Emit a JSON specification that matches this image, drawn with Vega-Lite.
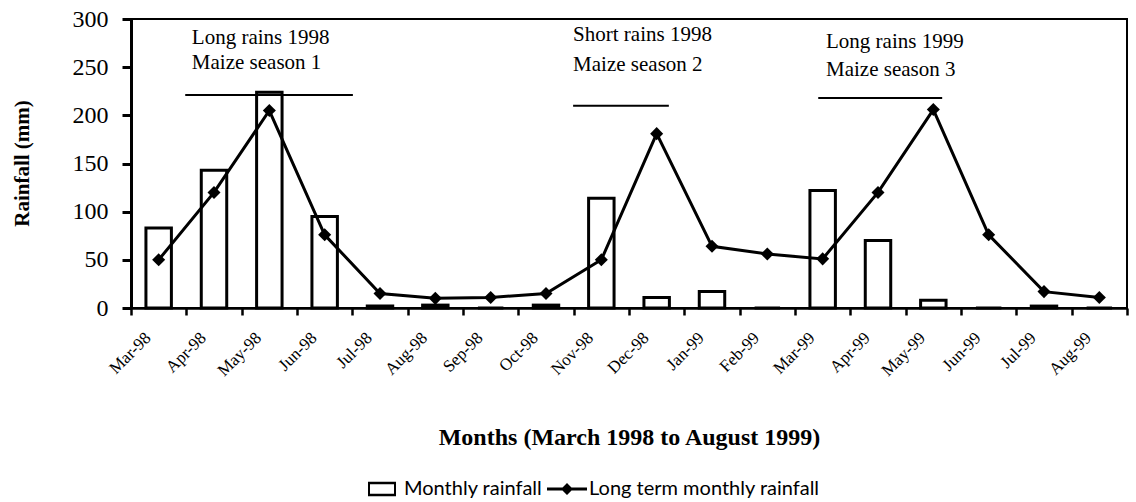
{
  "$schema": "https://vega.github.io/schema/vega-lite/v6.json",
  "width": 996,
  "height": 289,
  "autosize": {"type": "none"},
  "padding": {"left": 131, "top": 19, "right": 9, "bottom": 194},
  "background": "white",
  "config": {
    "view": {"stroke": "black", "strokeWidth": 2},
    "axis": {"domainColor": "black", "tickColor": "black", "labelColor": "black", "titleColor": "black", "grid": false},
    "legend": {"orient": "none", "legendX": 231, "legendY": 450}
  },
  "datasets": {
    "rain": [
      {"month": "Mar-98", "rain": 83, "lt": 50},
      {"month": "Apr-98", "rain": 143, "lt": 120},
      {"month": "May-98", "rain": 224, "lt": 205},
      {"month": "Jun-98", "rain": 95, "lt": 76},
      {"month": "Jul-98", "rain": 2, "lt": 15},
      {"month": "Aug-98", "rain": 3, "lt": 10},
      {"month": "Sep-98", "rain": 0, "lt": 11},
      {"month": "Oct-98", "rain": 3, "lt": 15},
      {"month": "Nov-98", "rain": 114, "lt": 50},
      {"month": "Dec-98", "rain": 11, "lt": 181},
      {"month": "Jan-99", "rain": 17, "lt": 64},
      {"month": "Feb-99", "rain": 0, "lt": 56},
      {"month": "Mar-99", "rain": 122, "lt": 51},
      {"month": "Apr-99", "rain": 70, "lt": 120},
      {"month": "May-99", "rain": 8, "lt": 206},
      {"month": "Jun-99", "rain": 0, "lt": 76},
      {"month": "Jul-99", "rain": 2, "lt": 17},
      {"month": "Aug-99", "rain": 0, "lt": 11}
    ],
    "seasons": [
      {"season": "Long rains 1998", "start": 0.98, "end": 4.01, "level": 221},
      {"season": "Short rains 1998", "start": 7.99, "end": 9.72, "level": 210},
      {"season": "Long rains 1999", "start": 12.42, "end": 14.66, "level": 218}
    ],
    "notes": [
      {"text": "Long rains 1998", "pos": 1.1, "level": 280},
      {"text": "Maize season 1", "pos": 1.1, "level": 254},
      {"text": "Short rains 1998", "pos": 7.99, "level": 283},
      {"text": "Maize season 2", "pos": 7.99, "level": 252},
      {"text": "Long rains 1999", "pos": 12.56, "level": 276},
      {"text": "Maize season 3", "pos": 12.56, "level": 247}
    ],
    "legend": [
      {"series": "Monthly rainfall"},
      {"series": "Long term monthly rainfall"}
    ]
  },
  "layer": [
    {
      "data": {"name": "rain"},
      "layer": [
        {
          "mark": {"type": "bar", "fill": "white", "stroke": "black", "strokeWidth": 3, "width": {"band": 0.46}},
          "encoding": {
            "x": {
              "field": "month", "type": "ordinal", "sort": null,
              "scale": {"paddingInner": 0, "paddingOuter": 0},
              "axis": {
                "title": "Months (March 1998 to August 1999)",
                "titleFont": "Liberation Serif", "titleFontSize": 24, "titleFontWeight": "bold",
                "titleY": 129, "titleBaseline": "middle",
                "labelAngle": -45, "labelAlign": "right", "labelBaseline": "middle",
                "labelFont": "Liberation Serif", "labelFontSize": 17, "labelPadding": 20, "labelOffset": -11,
                "tickBand": "extent", "tickSize": 7, "tickWidth": 2.5, "domainWidth": 2.5
              }
            },
            "y": {
              "field": "rain", "type": "quantitative",
              "scale": {"domain": [0, 300], "nice": false},
              "axis": {
                "title": "Rainfall (mm)", "values": [0, 50, 100, 150, 200, 250, 300],
                "titleFont": "Liberation Serif", "titleFontSize": 21, "titleFontWeight": "bold",
                "titleX": -109, "titleY": 144, "titleAngle": 270, "titleBaseline": "middle", "titleAlign": "center",
                "labelFont": "Liberation Serif", "labelFontSize": 24, "labelPadding": 14,
                "tickSize": 9, "tickWidth": 3, "domainWidth": 3
              }
            }
          }
        },
        {
          "mark": {"type": "line", "color": "black", "strokeWidth": 3},
          "encoding": {
            "x": {"field": "month", "type": "ordinal", "sort": null},
            "y": {"field": "lt", "type": "quantitative", "title": "Rainfall (mm)"}
          }
        },
        {
          "mark": {"type": "point", "shape": "diamond", "filled": true, "color": "black", "size": 170, "opacity": 1},
          "encoding": {
            "x": {"field": "month", "type": "ordinal", "sort": null},
            "y": {"field": "lt", "type": "quantitative", "title": "Rainfall (mm)"}
          }
        }
      ]
    },
    {
      "data": {"name": "seasons"},
      "mark": {"type": "rule", "color": "black", "strokeWidth": 2},
      "encoding": {
        "x": {"field": "start", "type": "quantitative", "scale": {"domain": [0, 18], "nice": false, "zero": false}, "axis": null},
        "x2": {"field": "end"},
        "y": {"field": "level", "type": "quantitative", "title": "Rainfall (mm)"}
      }
    },
    {
      "data": {"name": "notes"},
      "mark": {"type": "text", "align": "left", "baseline": "middle", "font": "Liberation Serif", "fontSize": 21, "color": "black"},
      "encoding": {
        "x": {"field": "pos", "type": "quantitative", "scale": {"domain": [0, 18], "nice": false, "zero": false}, "axis": null},
        "y": {"field": "level", "type": "quantitative", "title": "Rainfall (mm)"},
        "text": {"field": "text"}
      }
    },
    {
      "data": {"name": "legend"},
      "mark": {"type": "point", "filled": true, "color": "black", "opacity": 0},
      "encoding": {
        "shape": {
          "field": "series", "type": "nominal",
          "scale": {
            "domain": ["Monthly rainfall", "Long term monthly rainfall"],
            "range": [
              "M-0.7,-0.36H0.7V0.36H-0.7Z M-0.6,-0.24V0.24H0.6V-0.24Z",
              "M-1,-0.075H-0.225L0,-0.3L0.225,-0.075H1V0.075H0.225L0,0.3L-0.225,0.075H-1Z"
            ]
          },
          "legend": {
            "title": null, "direction": "horizontal",
            "symbolSize": 1600, "symbolFillColor": "black", "symbolStrokeWidth": 0, "symbolOpacity": 1,
            "labelFont": "Lato", "labelFontSize": 20, "labelColor": "black", "labelOffset": 2, "labelLimit": 0, "columnPadding": 4
          }
        }
      }
    }
  ],
  "resolve": {"scale": {"x": "independent"}}
}
